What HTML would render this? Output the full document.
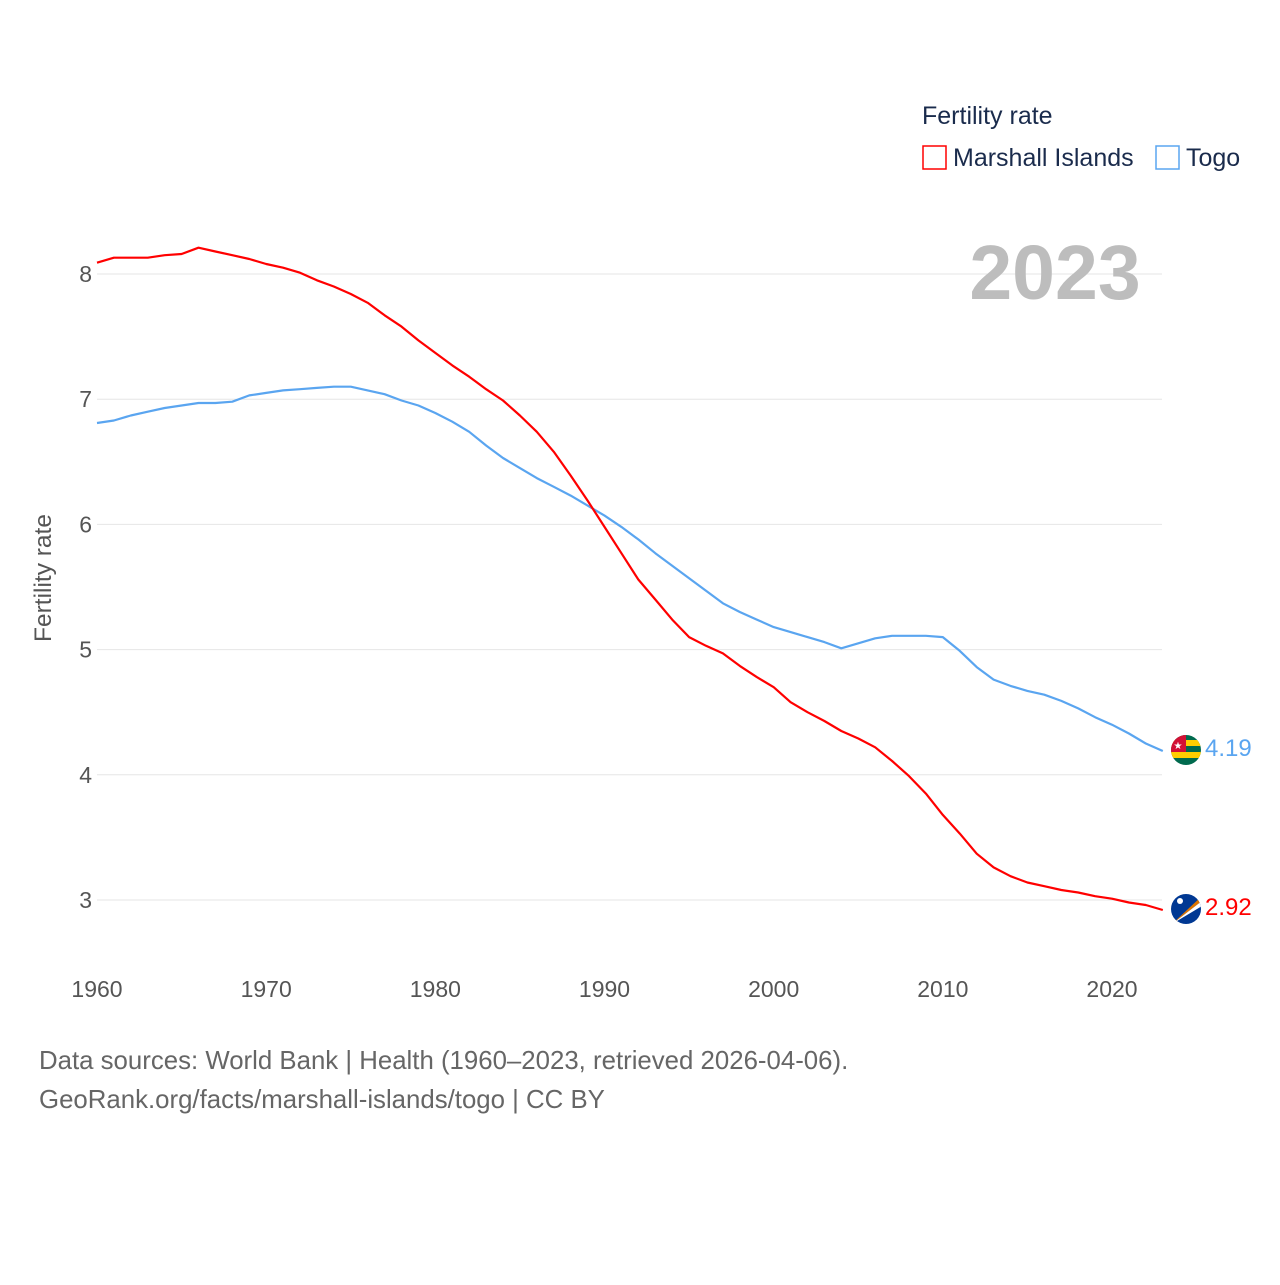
<!DOCTYPE html>
<html><head><meta charset="utf-8"><style>
body{margin:0;background:#fff;font-family:"Liberation Sans",sans-serif}
svg text{font-family:"Liberation Sans",sans-serif}
</style></head><body>
<svg width="1280" height="1280" viewBox="0 0 1280 1280">
<g id="grid"></g>
<g id="xt"></g>
<g id="yt"></g>
<text x="1055" y="299" font-size="77" font-weight="bold" fill="#bdbdbd" text-anchor="middle">2023</text>
<text transform="translate(51,578) rotate(-90)" font-size="24.5" fill="#555" text-anchor="middle">Fertility rate</text>
<g id="lines"></g>
<g>
<text x="922" y="124" font-size="25" fill="#1a2b4c">Fertility rate</text>
<g><rect x="923" y="146" width="23" height="23" fill="none" stroke="#f00" stroke-width="1.5"/><text x="953" y="166" font-size="25" fill="#1a2b4c">Marshall Islands</text></g>
<g><rect x="1156" y="146" width="23" height="23" fill="none" stroke="#5aa5f0" stroke-width="1.5"/><text x="1186" y="166" font-size="25" fill="#1a2b4c">Togo</text></g>
</g>
<g>
<clipPath id="c1"><circle cx="1186" cy="750" r="15"/></clipPath>
<g clip-path="url(#c1)"><rect x="1170" y="734" width="32" height="32" fill="#006a4e"/><rect x="1170" y="740" width="32" height="6" fill="#ffce00"/><rect x="1170" y="752" width="32" height="6" fill="#ffce00"/><rect x="1170" y="734" width="16" height="18" fill="#d21034"/><text x="1178" y="749" font-size="10" fill="#fff" text-anchor="middle">★</text></g></g>
<g>
<clipPath id="c2"><circle cx="1186" cy="909" r="15"/></clipPath>
<g clip-path="url(#c2)"><rect x="1170" y="893" width="32" height="32" fill="#003893"/><path d="M1172 924 L1202 896 L1202 901 Z" fill="#dd7500"/><path d="M1172 924 L1202 901 L1202 906 Z" fill="#fff"/><circle cx="1180" cy="901" r="3" fill="#fff"/></g></g>
<text x="1205" y="756" font-size="24" fill="#5aa5f0">4.19</text>
<text x="1205" y="915" font-size="24" fill="#f00">2.92</text>
<text x="39" y="1069" font-size="25.8" fill="#666">Data sources: World Bank | Health (1960–2023, retrieved 2026-04-06).</text>
<text x="39" y="1108" font-size="25.8" fill="#666">GeoRank.org/facts/marshall-islands/togo | CC BY</text>
</svg>
<script>
const years=[];for(let y=1960;y<=2023;y++)years.push(y);
const marshall=[8.09,8.13,8.13,8.13,8.15,8.16,8.21,8.18,8.15,8.12,8.08,8.05,8.01,7.95,7.90,7.84,7.77,7.67,7.58,7.47,7.37,7.27,7.18,7.08,6.99,6.87,6.74,6.58,6.39,6.19,5.98,5.77,5.56,5.40,5.24,5.10,5.03,4.97,4.87,4.78,4.70,4.58,4.50,4.43,4.35,4.29,4.22,4.11,3.99,3.85,3.68,3.53,3.37,3.26,3.19,3.14,3.11,3.08,3.06,3.03,3.01,2.98,2.96,2.92];
const togo=[6.81,6.83,6.87,6.90,6.93,6.95,6.97,6.97,6.98,7.03,7.05,7.07,7.08,7.09,7.10,7.10,7.07,7.04,6.99,6.95,6.89,6.82,6.74,6.63,6.53,6.45,6.37,6.30,6.23,6.15,6.07,5.98,5.88,5.77,5.67,5.57,5.47,5.37,5.30,5.24,5.18,5.14,5.10,5.06,5.01,5.05,5.09,5.11,5.11,5.11,5.10,4.99,4.86,4.76,4.71,4.67,4.64,4.59,4.53,4.46,4.40,4.33,4.25,4.19];
const yTicks=[3,4,5,6,7,8];
const xTicks=[1960,1970,1980,1990,2000,2010,2020];
const NS="http://www.w3.org/2000/svg";
const xS=y=>97+(y-1960)*(1015/60);
const yS=v=>274+(8-v)*125.2;
function mk(t,a,p){const e=document.createElementNS(NS,t);for(const k in a)e.setAttribute(k,a[k]);p.appendChild(e);return e;}
const grid=document.getElementById('grid'),yt=document.getElementById('yt'),xt=document.getElementById('xt'),lines=document.getElementById('lines');
yTicks.forEach(v=>{
const l=mk('line',{x1:97,x2:1162,y1:yS(v),y2:yS(v),stroke:'#e6e6e6','stroke-width':1},grid);


const t=mk('text',{x:92,y:yS(v)+8,'font-size':23,fill:'#555','text-anchor':'end'},yt);t.textContent=v;


});
xTicks.forEach(v=>{
const t=mk('text',{x:xS(v),y:997,'font-size':23,fill:'#555','text-anchor':'middle'},xt);t.textContent=v;


});
function line(data,color,name){
const d=data.map((v,i)=>(i?'L':'M')+xS(years[i]).toFixed(1)+' '+yS(v).toFixed(1)).join(' ');
const p=mk('path',{d:d,fill:'none',stroke:color,'stroke-width':2.2,'stroke-linejoin':'round'},lines);


}
line(togo,'#5aa5f0','line-togo');
line(marshall,'#f00','line-marshall-islands');
</script>
</body></html>
